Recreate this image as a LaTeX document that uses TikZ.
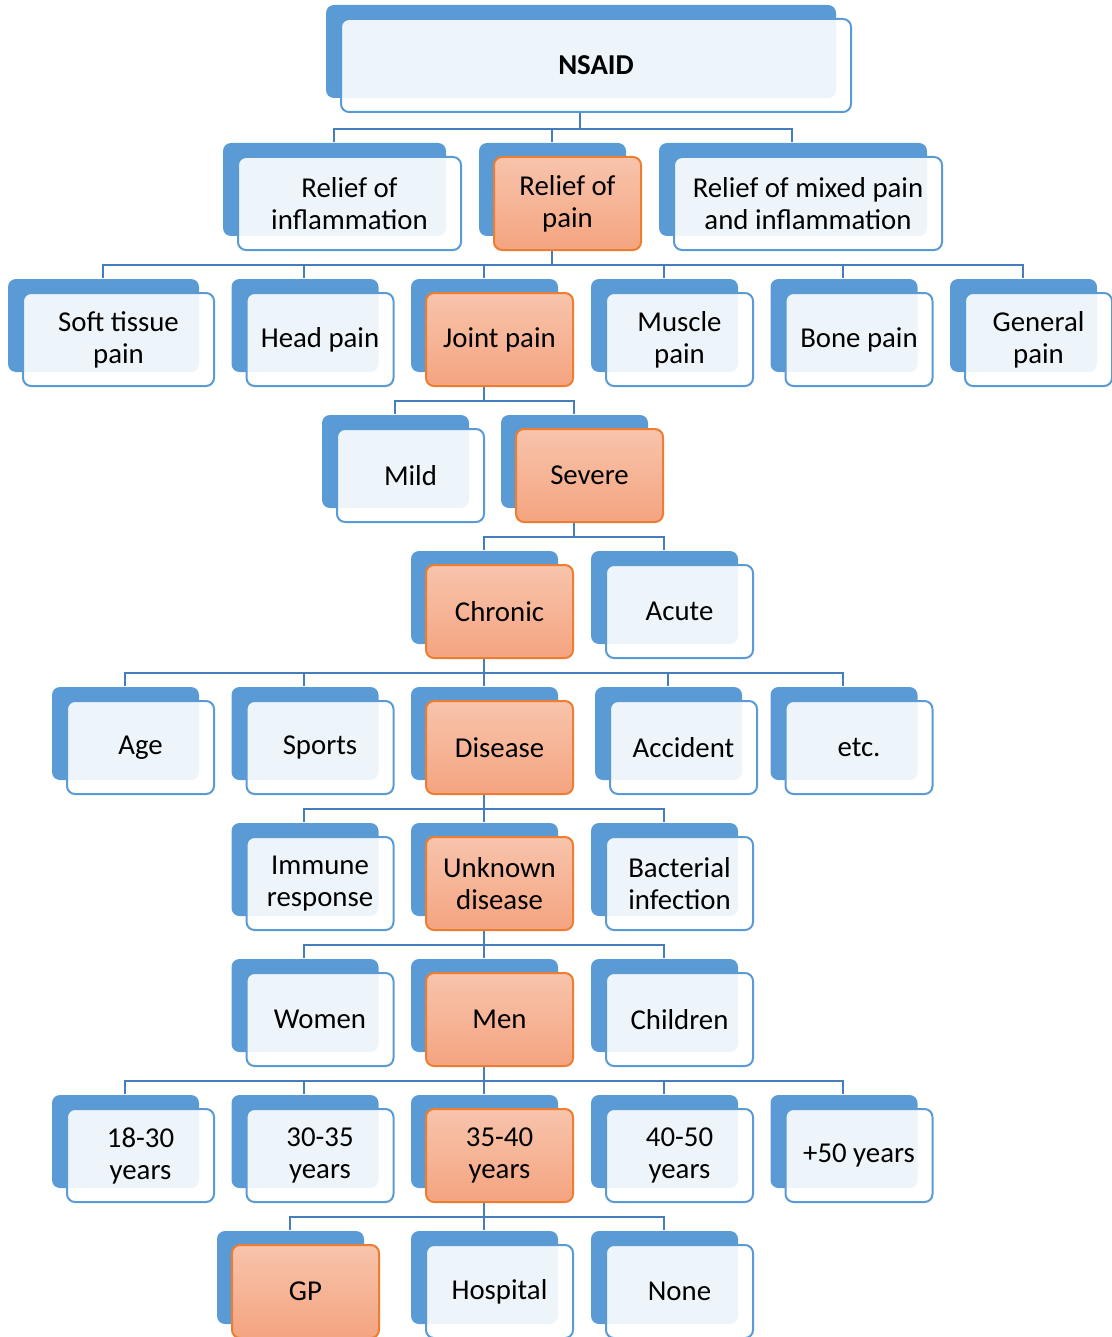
\documentclass[tikz,border=0pt]{standalone}
\usepackage{fontspec}
\setmainfont{Carlito}
\usepackage{tikz}
\usetikzlibrary{shadows}
\usetikzlibrary{backgrounds}
\definecolor{backblue}{RGB}{91,155,213}
\definecolor{linkblue}{RGB}{68,126,189}
\definecolor{orgtop}{RGB}{248,196,172}
\definecolor{orgbot}{RGB}{244,164,128}
\definecolor{orgline}{RGB}{237,125,49}
\tikzstyle{block} = [draw=backblue, line width=1pt, rounded corners=4pt, fill=white, fill opacity=0.9, text opacity=1, minimum width=73.5pt, minimum height=46.5pt, inner sep=0pt, align=center, font=\fontsize{14.4}{16}\selectfont, general shadow={fill=backblue, fill opacity=1, draw=none, shadow xshift=-7.5pt, shadow yshift=7pt}]
\tikzstyle{chosen} = [block, draw=orgline, top color=orgtop, bottom color=orgbot, fill opacity=1]
\tikzstyle{link} = [draw=linkblue, line width=1pt]

\begin{document}
\begin{tikzpicture}[x=0.5pt,y=-0.5pt]
    \useasboundingbox (0,0) rectangle (1112,1337);
    % top
    \node [block, minimum width=255pt, font=\fontsize{14.4}{16}\selectfont\bfseries] (nsaid) at (596,65.5) {NSAID};
    % relief
    \node [block, minimum width=111.5pt] (inflam) at (349.5,203.5) {Relief of\\inflammation};
    \node [chosen] (pain) at (567.5,203.5) {Relief of\\pain};
    \node [block, minimum width=134pt] (mixed) at (808,203.5) {Relief of mixed pain\\and inflammation};
    % site of pain
    \node [block, minimum width=95.5pt] (soft) at (118.5,339.5) {Soft tissue\\pain};
    \node [block] (head) at (320,339.5) {Head pain};
    \node [chosen] (joint) at (499.5,339.5) {Joint pain};
    \node [block] (muscle) at (679.5,339.5) {Muscle\\pain};
    \node [block] (bone) at (859,339.5) {Bone pain};
    \node [block] (general) at (1038.5,339.5) {General\\pain};
    % severity
    \node [block] (mild) at (410.5,475.5) {Mild};
    \node [chosen] (severe) at (589.5,475.5) {Severe};
    % duration
    \node [chosen] (chronic) at (499.5,611.5) {Chronic};
    \node [block] (acute) at (679.5,611.5) {Acute};
    % cause
    \node [block] (age) at (140.5,747.5) {Age};
    \node [block] (sports) at (320,747.5) {Sports};
    \node [chosen] (disease) at (499.5,747.5) {Disease};
    \node [block] (accident) at (683.5,747.5) {Accident};
    \node [block] (etc) at (859,747.5) {etc.};
    % kind of disease
    \node [block] (immune) at (320,883.5) {Immune\\response};
    \node [chosen] (unknown) at (499.5,883.5) {Unknown\\disease};
    \node [block] (bacterial) at (679.5,883.5) {Bacterial\\infection};
    % sex
    \node [block] (women) at (320,1019.5) {Women};
    \node [chosen] (men) at (499.5,1019.5) {Men};
    \node [block] (children) at (679.5,1019.5) {Children};
    % age group
    \node [block] (ageA) at (140.5,1155.5) {18-30\\years};
    \node [block] (ageB) at (320,1155.5) {30-35\\years};
    \node [chosen] (ageC) at (499.5,1155.5) {35-40\\years};
    \node [block] (ageD) at (679.5,1155.5) {40-50\\years};
    \node [block] (ageE) at (859,1155.5) {+50 years};
    % prescriber
    \node [chosen] (gp) at (305.5,1291.5) {GP};
    \node [block] (hospital) at (499.5,1291.5) {Hospital};
    \node [block] (none) at (679.5,1291.5) {None};

    \begin{pgfonlayer}{background}
    \draw [link] ([xshift=-8pt]nsaid.south) -- ++(0,16) -| ([xshift=-8pt,yshift=7pt]inflam.north); % connections
    \draw [link] ([xshift=-8pt]nsaid.south) -- ++(0,16) -| ([xshift=-8pt,yshift=7pt]pain.north);
    \draw [link] ([xshift=-8pt]nsaid.south) -- ++(0,16) -| ([xshift=-8pt,yshift=7pt]mixed.north);

    \draw [link] ([xshift=-8pt]pain.south) -- ++(0,14) -| ([xshift=-8pt,yshift=7pt]soft.north);
    \draw [link] ([xshift=-8pt]pain.south) -- ++(0,14) -| ([xshift=-8pt,yshift=7pt]head.north);
    \draw [link] ([xshift=-8pt]pain.south) -- ++(0,14) -| ([xshift=-8pt,yshift=7pt]joint.north);
    \draw [link] ([xshift=-8pt]pain.south) -- ++(0,14) -| ([xshift=-8pt,yshift=7pt]muscle.north);
    \draw [link] ([xshift=-8pt]pain.south) -- ++(0,14) -| ([xshift=-8pt,yshift=7pt]bone.north);
    \draw [link] ([xshift=-8pt]pain.south) -- ++(0,14) -| ([xshift=-8pt,yshift=7pt]general.north);

    \draw [link] ([xshift=-8pt]joint.south) -- ++(0,14) -| ([xshift=-8pt,yshift=7pt]mild.north);
    \draw [link] ([xshift=-8pt]joint.south) -- ++(0,14) -| ([xshift=-8pt,yshift=7pt]severe.north);

    \draw [link] ([xshift=-8pt]severe.south) -- ++(0,14) -| ([xshift=-8pt,yshift=7pt]chronic.north);
    \draw [link] ([xshift=-8pt]severe.south) -- ++(0,14) -| ([xshift=-8pt,yshift=7pt]acute.north);

    \draw [link] ([xshift=-8pt]chronic.south) -- ++(0,14) -| ([xshift=-8pt,yshift=7pt]age.north);
    \draw [link] ([xshift=-8pt]chronic.south) -- ++(0,14) -| ([xshift=-8pt,yshift=7pt]sports.north);
    \draw [link] ([xshift=-8pt]chronic.south) -- ++(0,14) -| ([xshift=-8pt,yshift=7pt]disease.north);
    \draw [link] ([xshift=-8pt]chronic.south) -- ++(0,14) -| ([xshift=-8pt,yshift=7pt]accident.north);
    \draw [link] ([xshift=-8pt]chronic.south) -- ++(0,14) -| ([xshift=-8pt,yshift=7pt]etc.north);

    \draw [link] ([xshift=-8pt]disease.south) -- ++(0,14) -| ([xshift=-8pt,yshift=7pt]immune.north);
    \draw [link] ([xshift=-8pt]disease.south) -- ++(0,14) -| ([xshift=-8pt,yshift=7pt]unknown.north);
    \draw [link] ([xshift=-8pt]disease.south) -- ++(0,14) -| ([xshift=-8pt,yshift=7pt]bacterial.north);

    \draw [link] ([xshift=-8pt]unknown.south) -- ++(0,14) -| ([xshift=-8pt,yshift=7pt]women.north);
    \draw [link] ([xshift=-8pt]unknown.south) -- ++(0,14) -| ([xshift=-8pt,yshift=7pt]men.north);
    \draw [link] ([xshift=-8pt]unknown.south) -- ++(0,14) -| ([xshift=-8pt,yshift=7pt]children.north);

    \draw [link] ([xshift=-8pt]men.south) -- ++(0,14) -| ([xshift=-8pt,yshift=7pt]ageA.north);
    \draw [link] ([xshift=-8pt]men.south) -- ++(0,14) -| ([xshift=-8pt,yshift=7pt]ageB.north);
    \draw [link] ([xshift=-8pt]men.south) -- ++(0,14) -| ([xshift=-8pt,yshift=7pt]ageC.north);
    \draw [link] ([xshift=-8pt]men.south) -- ++(0,14) -| ([xshift=-8pt,yshift=7pt]ageD.north);
    \draw [link] ([xshift=-8pt]men.south) -- ++(0,14) -| ([xshift=-8pt,yshift=7pt]ageE.north);

    \draw [link] ([xshift=-8pt]ageC.south) -- ++(0,14) -| ([xshift=-8pt,yshift=7pt]gp.north);
    \draw [link] ([xshift=-8pt]ageC.south) -- ++(0,14) -| ([xshift=-8pt,yshift=7pt]hospital.north);
    \draw [link] ([xshift=-8pt]ageC.south) -- ++(0,14) -| ([xshift=-8pt,yshift=7pt]none.north);
    \end{pgfonlayer}
\end{tikzpicture}
\end{document}
